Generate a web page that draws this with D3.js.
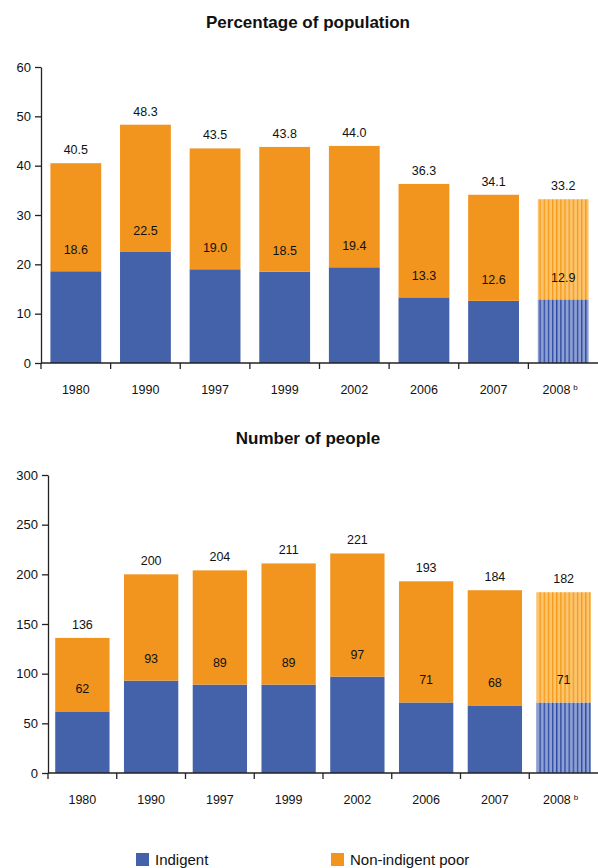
<!DOCTYPE html>
<html>
<head>
<meta charset="utf-8">
<script src="https://cdn.jsdelivr.net/npm/d3@7"></script>
<style>
  body { margin: 0; background: #fff; }
  svg { display: block; font-family: "Liberation Sans", Arial, Helvetica, sans-serif; }
</style>
</head>
<body>
<svg id="chart" width="598" height="868"></svg>
<script>
// Poverty and indigence, 1980-2008 (2008 is a projection)
const years = ["1980", "1990", "1997", "1999", "2002", "2006", "2007", "2008"];
const projected = "2008";

const pctIndigent = [18.6, 22.5, 19.0, 18.5, 19.4, 13.3, 12.6, 12.9];
const pctTotal    = [40.5, 48.3, 43.5, 43.8, 44.0, 36.3, 34.1, 33.2];

const numIndigent = [62, 93, 89, 89, 97, 71, 68, 71];
const numTotal    = [136, 200, 204, 211, 221, 193, 184, 182];

const pctTicks = [0, 10, 20, 30, 40, 50, 60];
const numTicks = [0, 50, 100, 150, 200, 250, 300];

const colors = { indigent: "#4462a9", poor: "#f2951f" };
const light  = { indigent: "#8d9fd3", poor: "#fcc46f" };
const dark   = { indigent: "#2b499f", poor: "#f59a14" };

const svg = d3.select("#chart");

// Vertical stripe patterns for the projected year
const defs = svg.append("defs");
["indigent", "poor"].forEach(k => {
  const p = defs.append("pattern")
    .attr("id", "stripe-" + k)
    .attr("patternUnits", "userSpaceOnUse")
    .attr("width", 4.15).attr("height", 10);
  p.append("rect").attr("width", 4.15).attr("height", 10).attr("fill", light[k]);
  p.append("rect").attr("width", 1.3).attr("height", 10).attr("fill", dark[k]);
});

function drawPanel(opts) {
  const { title, titleY, left, right, top, bottom, ticks, indigent, total, padding, fmt, innerOffset } = opts;
  const g = svg.append("g");

  const x = d3.scaleBand().domain(years).range([left, right])
    .paddingInner(padding).paddingOuter(padding / 2);
  const y = d3.scaleLinear().domain([0, d3.max(ticks)]).range([bottom, top]);

  g.append("text")
    .attr("x", 308).attr("y", titleY)
    .attr("text-anchor", "middle")
    .attr("font-size", 17).attr("font-weight", "bold")
    .attr("fill", "#111")
    .text(title);

  const rows = years.map((yr, i) => ({ yr, ind: indigent[i], tot: total[i], poor: +(total[i] - indigent[i]).toFixed(1) }));

  const bars = g.append("g").selectAll("g").data(rows).join("g");
  bars.append("rect")
    .attr("x", d => x(d.yr)).attr("width", x.bandwidth())
    .attr("y", d => y(d.ind)).attr("height", d => y(0) - y(d.ind))
    .attr("fill", d => d.yr === projected ? "url(#stripe-indigent)" : colors.indigent);
  bars.append("rect")
    .attr("x", d => x(d.yr)).attr("width", x.bandwidth())
    .attr("y", d => y(d.ind + d.poor)).attr("height", d => y(d.ind) - y(d.ind + d.poor))
    .attr("fill", d => d.yr === projected ? "url(#stripe-poor)" : colors.poor);

  // Totals above each bar
  bars.append("text")
    .attr("x", d => x(d.yr) + x.bandwidth() / 2)
    .attr("y", d => y(d.tot) - 9)
    .attr("text-anchor", "middle").attr("font-size", 12.5).attr("fill", "#111")
    .text(d => fmt(d.tot));
  // Indigent value inside the orange segment
  bars.append("text")
    .attr("x", d => x(d.yr) + x.bandwidth() / 2)
    .attr("y", d => y(d.ind) - innerOffset)
    .attr("text-anchor", "middle").attr("font-size", 12.5).attr("fill", "#111")
    .text(d => fmt(d.ind));

  // Y axis
  const yAxis = g.append("g").attr("transform", `translate(${left},0)`)
    .call(d3.axisLeft(y).tickValues(ticks).tickSize(6).tickPadding(4).tickSizeOuter(0));
  yAxis.select(".domain").attr("stroke", "#222").attr("stroke-width", 1.3);
  yAxis.selectAll(".tick line").attr("stroke", "#222").attr("stroke-width", 1.3);
  yAxis.selectAll(".tick text").attr("font-size", 13).attr("fill", "#111")
    .attr("font-family", "Liberation Sans, Arial, sans-serif");

  // X axis line with boundary ticks
  g.append("line").attr("x1", left).attr("x2", right).attr("y1", bottom).attr("y2", bottom)
    .attr("stroke", "#222").attr("stroke-width", 1.3);
  const step = x.step();
  g.append("g").selectAll("line").data(d3.range(years.length))
    .join("line")
    .attr("x1", i => left + i * step).attr("x2", i => left + i * step)
    .attr("y1", bottom).attr("y2", bottom + 6)
    .attr("stroke", "#222").attr("stroke-width", 1.3);

  const xl = g.append("g").selectAll("text").data(years).join("text")
    .attr("x", d => x(d) + x.bandwidth() / 2 - (d === projected ? 3 : 0))
    .attr("y", bottom + 31)
    .attr("text-anchor", "middle").attr("font-size", 12.5).attr("fill", "#111");
  xl.append("tspan").text(d => d);
  xl.filter(d => d === projected).append("tspan")
    .attr("font-size", 8).attr("dx", 3).attr("dy", -4).text("b");
}

drawPanel({
  title: "Percentage of population", titleY: 28,
  left: 41, right: 598, top: 67, bottom: 363,
  ticks: pctTicks, indigent: pctIndigent, total: pctTotal,
  padding: 0.27, fmt: d3.format(".1f"), innerOffset: 17
});

drawPanel({
  title: "Number of people", titleY: 444,
  left: 48, right: 598, top: 475, bottom: 773,
  ticks: numTicks, indigent: numIndigent, total: numTotal,
  padding: 0.21, fmt: d3.format("d"), innerOffset: 18
});

// Legend
const legend = svg.append("g");
const items = [
  { label: "Indigent", color: colors.indigent, x: 136 },
  { label: "Non-indigent poor", color: colors.poor, x: 331 }
];
items.forEach(it => {
  legend.append("rect").attr("x", it.x).attr("y", 853).attr("width", 13).attr("height", 13).attr("fill", it.color);
  legend.append("text").attr("x", it.x + 19).attr("y", 865)
    .attr("font-size", 15).attr("fill", "#111").text(it.label);
});
</script>
</body>
</html>
